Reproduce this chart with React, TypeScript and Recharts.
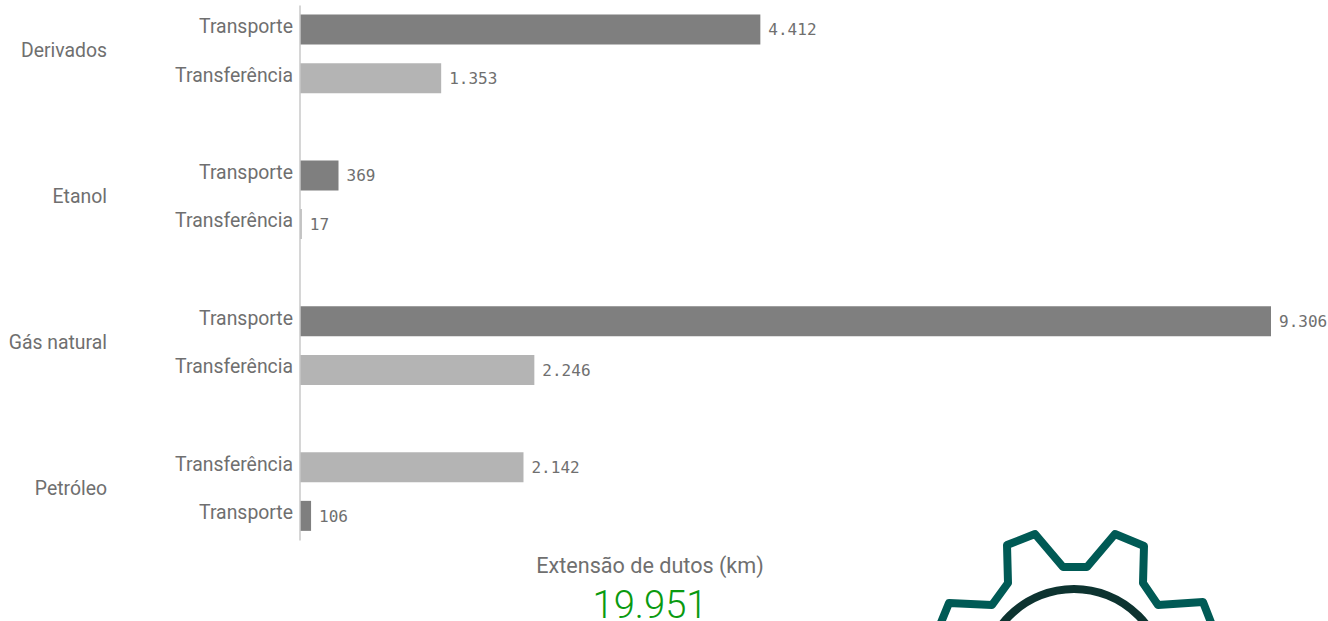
import { BarChart, Bar, Cell, LabelList, XAxis, YAxis } from "recharts";

// null rows are the gaps between the product groups
const groups = ["Derivados", "Derivados", null, "Etanol", "Etanol", null, "Gás natural", "Gás natural", null, "Petróleo", "Petróleo"];
const rowLabels = ["Transporte", "Transferência", "", "Transporte", "Transferência", "", "Transporte", "Transferência", "", "Transferência", "Transporte"];
const values = [4412, 1353, null, 369, 17, null, 9306, 2246, null, 2142, 106];

const maxValue = 9306;
const title = "Extensão de dutos (km)";
const total = "19.951";

const colors: Record<string, string> = { Transporte: "#7f7f7f", "Transferência": "#b4b4b4" };
const textColor = "#6f6f6f";
const fontFamily = "Roboto, sans-serif";

const rows = rowLabels.map((label, i) => ({
  id: `row-${i}`,
  label,
  group: groups[i],
  value: values[i],
}));

const RowTick = ({ x, y, index, payload }: any) => {
  const row = rows[index ?? payload.index];
  if (!row || !row.label) return null;
  const first = index === 0 || rows[index - 1].group !== row.group;
  return (
    <g fontFamily={fontFamily} fontSize={19.4} fill={textColor}>
      <text x={x + 1} y={y - 2} textAnchor="end" dominantBaseline="middle">{row.label}</text>
      {first && (
        <text x={107} y={y + 22.5} textAnchor="end" dominantBaseline="middle">{row.group}</text>
      )}
    </g>
  );
};

const formatValue = (v: any) => (v == null ? "" : Number(v).toLocaleString("pt-BR"));

export default function App() {
  return (
    <div style={{ position: "fixed", left: 0, top: 0, width: 1328, height: 621, overflow: "hidden", background: "#fff" }}>
      <BarChart
        layout="vertical"
        width={1328}
        height={621}
        data={rows}
        margin={{ top: 5.5, right: 57, left: 0, bottom: 80.5 }}
        barCategoryGap={0}
      >
        <XAxis type="number" hide domain={[0, maxValue]} />
        <YAxis
          type="category"
          dataKey="id"
          width={300}
          interval={0}
          tickLine={false}
          axisLine={{ stroke: "#c8c8c8", strokeWidth: 1.5 }}
          tick={<RowTick />}
        />
        <Bar dataKey="value" barSize={30} isAnimationActive={false}>
          {rows.map((r) => (
            <Cell key={r.id} fill={colors[r.label] ?? "#ffffff"} />
          ))}
          <LabelList
            dataKey="value"
            position="right"
            offset={8}
            formatter={formatValue}
            fill={textColor}
            fontSize={16}
            fontFamily="'DejaVu Sans Mono', monospace"
          />
        </Bar>
      </BarChart>

      <div style={{ position: "absolute", left: 450, width: 400, top: 552, textAlign: "center", fontFamily, fontSize: 21.6, color: textColor, lineHeight: "28px" }}>
        {title}
      </div>
      <div style={{ position: "absolute", left: 450, width: 400, top: 590, textAlign: "center", fontFamily, fontWeight: 300, fontSize: 38.2, color: "#0a9a10", lineHeight: "30px" }}>
        {total}
      </div>

      {/* logo cropped by the bottom of the page */}
      <svg width={1328} height={621} style={{ position: "absolute", left: 0, top: 0, pointerEvents: "none" }}>
        <path
          d="M940 625 L949 603 L992 605 L1008 583 L1007 545 L1035 534 L1063 567 L1087 567 L1115 534 L1144 546 L1143 583 L1158 605 L1203 602 L1212 625"
          fill="none"
          stroke="#005a55"
          strokeWidth={8}
          strokeLinejoin="round"
        />
        <circle cx={1074} cy={680} r={91} fill="none" stroke="#0d3330" strokeWidth={8} />
      </svg>
    </div>
  );
}
